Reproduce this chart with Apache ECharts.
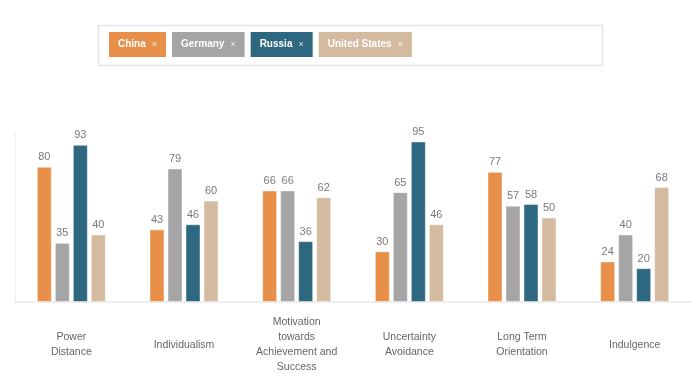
<!DOCTYPE html>
<html>
<head>
<meta charset="utf-8">
<script src="https://cdn.jsdelivr.net/npm/echarts@6/dist/echarts.min.js"></script>
<style>
  html, body { margin: 0; padding: 0; background: #fff; }
  #main { width: 700px; height: 383px; }
</style>
</head>
<body>
<div id="main"></div>
<script>
// 维度
var categories = ['Power\nDistance', 'Individualism', 'Motivation\ntowards\nAchievement and\nSuccess',
  'Uncertainty\nAvoidance', 'Long Term\nOrientation', 'Indulgence'];
var countries = ['China', 'Germany', 'Russia', 'United States'];
var colors = ['#E8904A', '#A5A5A5', '#2D6880', '#D4BBA0'];

var chinaData   = [80, 43, 66, 30, 77, 24];
var germanyData = [35, 79, 66, 65, 57, 40];
var russiaData  = [93, 46, 36, 95, 58, 20];
var usData      = [40, 60, 62, 46, 50, 68];

var font = '"Liberation Sans Narrow", "Liberation Sans", sans-serif';

var myChart = echarts.init(document.getElementById('main'));

var seriesData = [chinaData, germanyData, russiaData, usData];
var series = [];
var legendData = [];
for (var i = 0; i < countries.length; i++) {
  series.push({
    name: countries[i],
    type: 'bar',
    barWidth: 15,
    barGap: '20%',
    itemStyle: { color: colors[i], borderColor: 'rgba(255,255,255,0.45)', borderWidth: 1 },
    label: {
      show: true, position: 'top', distance: 4,
      color: '#7a7a7a', fontSize: 11, fontFamily: font
    },
    data: seriesData[i]
  });
  legendData.push({
    name: countries[i],
    textStyle: { backgroundColor: colors[i] }
  });
}

var option = {
  animation: false,
  color: colors,
  textStyle: { fontFamily: font },
  graphic: [{
    type: 'rect',
    shape: { x: 98.5, y: 25.5, width: 504, height: 40 },
    style: { fill: '#fff', stroke: '#e6e6e6', lineWidth: 1.5 },
    z: -1
  }],
  legend: {
    left: 104, top: 32,
    padding: 0,
    icon: 'none',
    itemWidth: 0,
    itemHeight: 0,
    itemGap: 1,
    selectedMode: false,
    data: legendData,
    formatter: function (name) { return '{n|' + name + '}{x|×}'; },
    textStyle: {
      padding: [7, 9, 7, 9],
      lineHeight: 11,
      rich: {
        n: { color: '#fff', fontWeight: 'bold', fontSize: 10, fontFamily: font, lineHeight: 11 },
        x: { color: 'rgba(255,255,255,0.85)', fontSize: 9, padding: [0, 0, 0, 6], lineHeight: 11 }
      }
    }
  },
  grid: { left: 15, right: 9, top: 133, bottom: 81, containLabel: false },
  xAxis: {
    type: 'category',
    data: categories,
    axisLine: { lineStyle: { color: '#eeeeee', width: 2 } },
    axisTick: { show: false },
    axisLabel: {
      color: '#666', fontSize: 10.5, lineHeight: 15,
      verticalAlign: 'middle', margin: 43, interval: 0, fontFamily: font
    }
  },
  yAxis: {
    type: 'value',
    min: 0, max: 100,
    axisLine: { show: true, lineStyle: { color: '#f0f0f0', width: 1 } },
    axisTick: { show: false },
    axisLabel: { show: false },
    splitLine: { show: false }
  },
  series: series
};

myChart.setOption(option);
</script>
</body>
</html>
